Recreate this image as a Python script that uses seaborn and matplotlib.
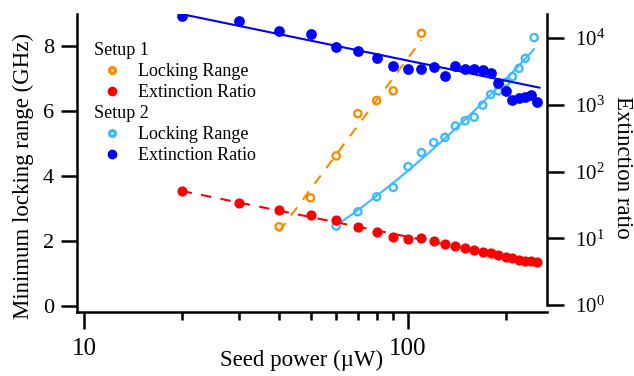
import numpy as np
import matplotlib
matplotlib.use("Agg")
import matplotlib.pyplot as plt
import seaborn as sns
from matplotlib.lines import Line2D
from matplotlib.ticker import FixedLocator, NullLocator, NullFormatter, LogLocator

# ---------------- data ----------------
power_lr1 = [40, 50, 60, 70, 80, 90, 110]
lock_range1 = [2.43, 3.32, 4.61, 5.91, 6.31, 6.61, 8.38]

power_lr2 = [60, 70, 80, 90, 100, 110, 120, 130, 140, 150, 160, 170, 180,
             190, 200, 210, 220, 230, 245]
lock_range2 = [2.45, 2.89, 3.35, 3.64, 4.28, 4.71, 5.02, 5.18, 5.53, 5.69,
               5.80, 6.17, 6.50, 6.61, 6.87, 7.05, 7.30, 7.61, 8.25]

power_er = [20, 30, 40, 50, 60, 70, 80, 90, 100, 110, 120, 130, 140, 150,
            160, 170, 180, 190, 200, 210, 220, 230, 240, 250]
ext_ratio1 = [51, 33.5, 27, 22, 18.5, 14.7, 12.3, 10.6, 9.7, 10.0, 9.2, 8.2,
              7.6, 7.1, 6.7, 6.3, 6.0, 5.6, 5.3, 5.0, 4.7, 4.6, 4.5, 4.4]
ext_ratio2 = [21700, 18100, 12800, 11750, 7460, 6430, 5000, 3830, 3420, 3450,
              3740, 2740, 3790, 3490, 3450, 3300, 3010, 2150, 1630, 1180, 1280,
              1330, 1410, 1120]
ext2_fit_max_power = 180     # setup-2 extinction fit uses points up to here
ext2_fit_end_power = 255

x_ticks = [10, 100]
x_tick_labels = ["10", "100"]
left_ticks = [0, 2, 4, 6, 8]
right_ticks = [1, 10, 100, 1000, 10000]
right_tick_labels = [r"$\mathregular{10^{%d}}$" % i for i in range(5)]

ORANGE = "#FF8A00"
LIGHTBLUE = "#3DBBFF"
RED = "#FF0000"
BLUE = "#0000FF"

# ---------------- style ----------------
sns.set_theme(style="ticks")
plt.rcParams["font.family"] = ["Liberation Serif", "DejaVu Serif"]
plt.rcParams["mathtext.fontset"] = "custom"
plt.rcParams["mathtext.rm"] = "Liberation Serif"
plt.rcParams["mathtext.it"] = "Liberation Serif:italic"
plt.rcParams["mathtext.bf"] = "Liberation Serif:bold"
plt.rcParams["text.color"] = "black"
plt.rcParams["axes.labelcolor"] = "black"
plt.rcParams["xtick.color"] = "black"
plt.rcParams["ytick.color"] = "black"

fig = plt.figure(figsize=(6.34, 3.76), dpi=100)
ax = fig.add_axes([0.1215, 0.1702, 0.7413, 0.7926])
ax2 = ax.twinx()
ax.set_xscale("log")
ax2.set_yscale("log")
ax.set_xlim(9.51, 268.5)
ax.set_ylim(-0.194, 8.975)
ax2.set_ylim(10 ** -0.105, 10 ** 4.363)

# ---------------- fits ----------------
p1 = np.array(power_lr1, float)
c1 = np.polyfit(np.log10(p1), lock_range1, 1)
xf1 = np.geomspace(p1.min(), p1.max(), 100)
yf1 = np.polyval(c1, np.log10(xf1))

p2 = np.array(power_lr2, float)
c2 = np.polyfit(np.log10(p2), lock_range2, 2)
xf2 = np.geomspace(p2.min(), p2.max(), 150)
yf2 = np.polyval(c2, np.log10(xf2))

pe = np.array(power_er, float)
ce1 = np.polyfit(np.log10(pe), np.log10(ext_ratio1), 1)
xe1 = np.geomspace(pe.min(), pe.max(), 100)
ye1 = 10 ** np.polyval(ce1, np.log10(xe1))

mask = pe <= ext2_fit_max_power
ce2 = np.polyfit(np.log10(pe[mask]), np.log10(np.array(ext_ratio2)[mask]), 1)
xe2 = np.geomspace(pe.min(), ext2_fit_end_power, 100)
ye2 = 10 ** np.polyval(ce2, np.log10(xe2))

# fit lines
sns.lineplot(x=xf1, y=yf1, ax=ax, color=ORANGE, lw=1.5,
             estimator=None, sort=False, zorder=2)
sns.lineplot(x=xf2, y=yf2, ax=ax, color=LIGHTBLUE, lw=1.5,
             estimator=None, sort=False, zorder=2)
sns.lineplot(x=xe1, y=ye1, ax=ax2, color=RED, lw=1.5,
             estimator=None, sort=False, zorder=2)
sns.lineplot(x=xe2, y=ye2, ax=ax2, color=BLUE, lw=1.5,
             estimator=None, sort=False, zorder=2)
for line in ax.get_lines()[:1] + ax2.get_lines()[:1]:
    line.set_dashes((5, 4.5))

# markers
sns.scatterplot(x=power_lr1, y=lock_range1, ax=ax, marker="o", s=27,
                facecolor="none", edgecolor=ORANGE, linewidth=1.7, zorder=3)
sns.scatterplot(x=power_lr2, y=lock_range2, ax=ax, marker="o", s=27,
                facecolor="none", edgecolor=LIGHTBLUE, linewidth=1.7, zorder=3)
sns.scatterplot(x=power_er, y=ext_ratio1, ax=ax2, marker="o", s=54,
                color=RED, edgecolor=RED, linewidth=0, zorder=3)
sns.scatterplot(x=power_er, y=ext_ratio2, ax=ax2, marker="o", s=60,
                color=BLUE, edgecolor=BLUE, linewidth=0, zorder=3)

# ---------------- axes cosmetics ----------------
for a in (ax, ax2):
    a.set_facecolor("none")
    a.spines["top"].set_visible(False)
    for s in a.spines.values():
        s.set_linewidth(1.8)
        s.set_color("black")
ax.spines["right"].set_visible(False)
ax2.spines["left"].set_visible(False)
ax2.spines["bottom"].set_visible(False)
ax2.spines["right"].set_bounds(1, 10 ** 4.363)

ax.xaxis.set_major_locator(FixedLocator(x_ticks))
ax.set_xticklabels(x_tick_labels)
ax.xaxis.set_minor_locator(LogLocator(base=10, subs=np.arange(2, 10)))
ax.xaxis.set_minor_formatter(NullFormatter())
ax.set_yticks(left_ticks)
ax.set_yticklabels([str(t) for t in left_ticks])
ax.yaxis.set_minor_locator(NullLocator())
ax2.yaxis.set_major_locator(FixedLocator(right_ticks))
ax2.set_yticklabels(right_tick_labels)
ax2.yaxis.set_minor_locator(NullLocator())

ax.tick_params(axis="x", which="major", length=12, width=1.8, labelsize=18, pad=7, direction="out")
ax.tick_params(axis="x", which="minor", length=6, width=1.8, direction="out")
ax.tick_params(axis="y", which="major", length=11.5, width=1.8, labelsize=16, pad=5, direction="out")
ax2.tick_params(axis="y", which="major", length=12, width=1.8, labelsize=15, pad=8, direction="out")

ax.set_xlabel("Seed power (\u00b5W)", fontsize=16.5)
ax.xaxis.set_label_coords(0.477, -0.163)
ax.xaxis.label.set_va("center")
ax.set_ylabel("Minimum locking range (GHz)", fontsize=16.5)
ax.yaxis.set_label_coords(-0.114, 0.456)
ax.yaxis.label.set_va("center")
ax2.set_ylabel("Extinction ratio", fontsize=16.5, rotation=270)
ax2.yaxis.set_label_coords(1.1596, 0.4866)
ax2.yaxis.label.set_va("center")

# ---------------- legend ----------------
blank = Line2D([], [], ls="none")
handles = [
    blank,
    Line2D([], [], ls="none", marker="o", ms=4.2, mew=2.4, mfc="white", mec=ORANGE),
    Line2D([], [], ls="none", marker="o", ms=7, mew=0, color=RED),
    blank,
    Line2D([], [], ls="none", marker="o", ms=4.2, mew=2.4, mfc="white", mec=LIGHTBLUE),
    Line2D([], [], ls="none", marker="o", ms=7, mew=0, color=BLUE),
]
labels = ["Setup 1", "Locking Range", "Extinction Ratio",
          "Setup 2", "Locking Range", "Extinction Ratio"]
leg = ax2.legend(handles, labels, loc="upper left", bbox_to_anchor=(0.036, 0.905),
                 frameon=False, fontsize=13, handlelength=2.0, handletextpad=0.45,
                 labelspacing=0.22, borderpad=0, borderaxespad=0)
try:
    rows = leg._legend_handle_box.get_children()[0].get_children()
    for i in (0, 3):
        rows[i].get_children()[0].set_visible(False)
except Exception:
    pass

fig.savefig("out.png", dpi=100)
